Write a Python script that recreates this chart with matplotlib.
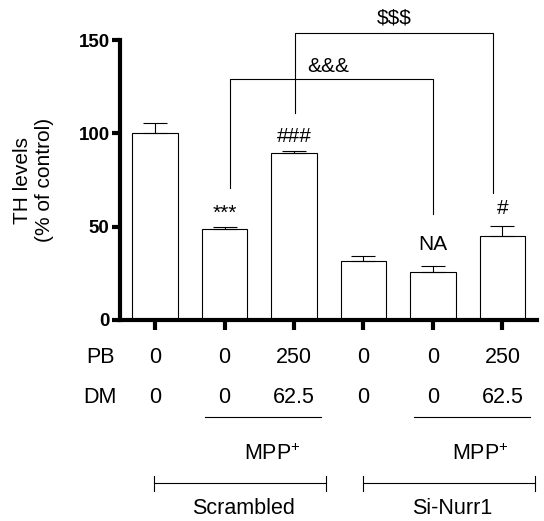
import matplotlib
matplotlib.use('Agg')
import matplotlib.pyplot as plt
import matplotlib.transforms as mtransforms
import numpy as np

plt.rcParams['font.family'] = ['Liberation Sans', 'DejaVu Sans']
plt.rcParams['mathtext.fontset'] = 'custom'
plt.rcParams['mathtext.rm'] = 'Liberation Sans'
plt.rcParams['mathtext.it'] = 'Liberation Sans:italic'
plt.rcParams['mathtext.bf'] = 'Liberation Sans:bold'

# ---- data ----
groups = ['Control', 'MPP+', 'MPP+ PB/DM', 'Si control', 'Si MPP+', 'Si MPP+ PB/DM']
th_levels = [100.0, 49.0, 89.3, 31.4, 25.5, 44.8]
th_sem = [5.5, 1.0, 1.4, 2.7, 3.6, 5.7]
pb_labels = ['0', '0', '250', '0', '0', '250']
dm_labels = ['0', '0', '62.5', '0', '0', '62.5']
sig_labels = ['***', '###', 'NA', '#']
sig_bars = [1, 2, 4, 5]
sig_y = [54.3, 95.6, 37.5, 56.8]
y_ticks = [0, 50, 100, 150]

fig = plt.figure(figsize=(5.44, 5.21), dpi=100)
ax = fig.add_axes([0.2206, 0.3858, 0.7665, 0.5374])

x = np.arange(len(groups))
ax.bar(x, th_levels, width=0.65, color='white', edgecolor='black', linewidth=0.8, zorder=2)
ax.errorbar(x, th_levels, yerr=[np.zeros(len(x)), th_sem], fmt='none', ecolor='black',
            elinewidth=0.8, capsize=8.5, capthick=0.8, zorder=3)

ax.set_xlim(-0.504, 5.497)
ax.set_ylim(0, 150)
ax.set_yticks(y_ticks)
ax.set_yticklabels([str(t) for t in y_ticks], fontsize=13.5, fontweight='bold')
ax.set_xticks(x)
ax.set_xticklabels([])
ax.tick_params(axis='y', width=3, length=5.5, pad=2)
ax.tick_params(axis='x', width=3, length=7)
for s in ['top', 'right']:
    ax.spines[s].set_visible(False)
for s in ['left', 'bottom']:
    ax.spines[s].set_linewidth(3)

# significance labels
for b, lab, yv in zip(sig_bars, sig_labels, sig_y):
    ax.text(x[b], yv, lab, ha='center', va='baseline', fontsize=15)

# brackets
lw = 0.8
ax.plot([1.08, 1.08, 4.0, 4.0], [70.5, 128.9, 128.9, 56.6], color='black', lw=lw, clip_on=False)
ax.text(2.49, 133, '&&&', ha='center', va='baseline', fontsize=15)
ax.plot([2.01, 2.01, 4.86, 4.86], [111, 153.5, 153.5, 67.9], color='black', lw=lw, clip_on=False)
ax.text(3.44, 158.9, '$$$', ha='center', va='baseline', fontsize=15)

# y label
fig.text(0.0616, 0.6545, 'TH levels\n(% of control)', rotation=90, ha='center', va='center',
         multialignment='center', fontsize=15, linespacing=1.25)

# table below
tr = mtransforms.blended_transform_factory(ax.transData, ax.transAxes)
ax.text(-0.79, -0.155, 'PB', transform=tr, ha='center', va='baseline', fontsize=15.5)
ax.text(-0.79, -0.295, 'DM', transform=tr, ha='center', va='baseline', fontsize=15.5)
for xi, p, d in zip(x, pb_labels, dm_labels):
    ax.text(xi, -0.155, p, transform=tr, ha='center', va='baseline', fontsize=15.5)
    ax.text(xi, -0.295, d, transform=tr, ha='center', va='baseline', fontsize=15.5)

for x0, x1 in [(0.72, 2.39), (3.73, 5.40)]:
    ax.plot([x0, x1], [-0.3475, -0.3475], transform=tr, color='black', lw=lw, clip_on=False)
for xc in [1.69, 4.68]:
    ax.text(xc, -0.50, r'MPP$^{+}$', transform=tr, ha='center', va='baseline', fontsize=15.5)

cap = 0.027
for (x0, x1), lab, xc in [((-0.017, 2.46), 'Scrambled', 1.27), ((2.99, 5.47), 'Si-Nurr1', 4.27)]:
    ax.plot([x0, x1], [-0.583, -0.583], transform=tr, color='black', lw=lw, clip_on=False)
    ax.plot([x0, x0], [-0.583 - cap, -0.583 + cap], transform=tr, color='black', lw=lw, clip_on=False)
    ax.plot([x1, x1], [-0.583 - cap, -0.583 + cap], transform=tr, color='black', lw=lw, clip_on=False)
    ax.text(xc, -0.693, lab, transform=tr, ha='center', va='baseline', fontsize=15.5)

fig.savefig('out.png', dpi=100)
